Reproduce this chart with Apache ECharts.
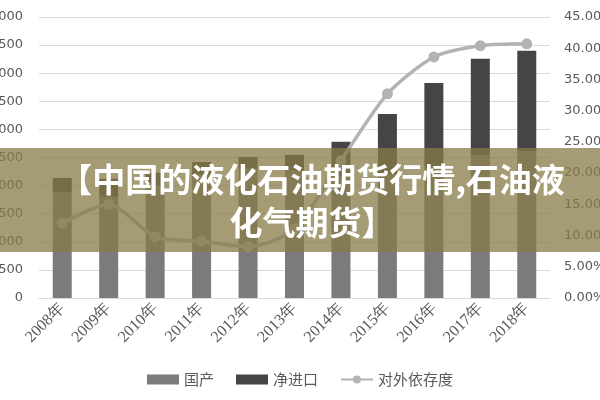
<!DOCTYPE html>
<html>
<head>
<meta charset="utf-8">
<script src="https://cdn.jsdelivr.net/npm/echarts@6/dist/echarts.min.js"></script>
<style>
html, body { margin: 0; padding: 0; background: #fff; }
#main { width: 600px; height: 400px; }
</style>
</head>
<body>
<div id="main"></div>
<script>
var years = ['2008年', '2009年', '2010年', '2011年', '2012年', '2013年', '2014年', '2015年', '2016年', '2017年', '2018年'];
var guochan = [1880, 1800, 2010, 2200, 2300, 2265, 2170, 2200, 2350, 2535, 2610];
var jingjinkou = [255, 320, 220, 220, 210, 280, 610, 1075, 1475, 1720, 1790];
var yicundu = [12.0, 15.0, 9.8, 9.1, 8.2, 11.0, 22.0, 32.7, 38.6, 40.4, 40.7];
var titleText = '【中国的液化石油期货行情,石油液\n化气期货】';

var myChart = echarts.init(document.getElementById('main'));
var option = {
	backgroundColor: '#fff',
	animation: false,
	grid: {
		left: 39,
		right: 50,
		top: 17,
		bottom: 102,
		outerBoundsMode: 'none'
	},
	legend: {
		bottom: 8,
		left: 'center',
		itemGap: 22,
		textStyle: {
			color: '#595959',
			fontSize: 15,
			fontFamily: 'Noto Sans CJK SC'
		},
		data: [
			{ name: '国产', icon: 'rect', itemStyle: { color: '#7b7b7b' } },
			{ name: '净进口', icon: 'rect', itemStyle: { color: '#454545' } },
			{ name: '对外依存度' }
		],
		itemWidth: 32,
		itemHeight: 10
	},
	xAxis: {
		type: 'category',
		data: years,
		axisLine: { lineStyle: { color: '#d9d9d9' } },
		axisTick: { show: false },
		axisLabel: {
			rotate: 45,
			color: '#595959',
			fontSize: 16,
			fontFamily: 'Liberation Serif',
			margin: 8
		}
	},
	yAxis: [{
		type: 'value',
		min: 0,
		max: 5000,
		interval: 500,
		axisLine: { show: false },
		axisTick: { show: false },
		axisLabel: {
			color: '#595959',
			fontSize: 13,
			fontFamily: 'DejaVu Sans',
			margin: 16,
			formatter: function (v) {
				return String(v);
			}
		},
		splitLine: { lineStyle: { color: '#d9d9d9' } }
	}, {
		type: 'value',
		min: 0,
		max: 45,
		interval: 5,
		axisLine: { show: false },
		axisTick: { show: false },
		splitLine: { show: false },
		axisLabel: {
			color: '#595959',
			fontSize: 13,
			fontFamily: 'DejaVu Sans',
			margin: 14,
			formatter: function (v) {
				return v.toFixed(2) + '%';
			}
		}
	}],
	series: [{
		name: '国产',
		type: 'bar',
		stack: 'total',
		barWidth: 19,
		itemStyle: { color: '#7b7b7b' },
		data: guochan
	}, {
		name: '净进口',
		type: 'bar',
		stack: 'total',
		barWidth: 19,
		itemStyle: { color: '#454545' },
		data: jingjinkou
	}, {
		name: '对外依存度',
		type: 'line',
		yAxisIndex: 1,
		smooth: 0.25,
		symbol: 'circle',
		symbolSize: 11,
		lineStyle: { color: '#b3b3b3', width: 3.5 },
		itemStyle: { color: '#b3b3b3' },
		data: yicundu
	}],
	graphic: [{
		type: 'rect',
		z: 100,
		shape: { x: 0, y: 148, width: 600, height: 104 },
		style: { fill: 'rgba(135,121,70,0.75)' }
	}, {
		type: 'text',
		z: 101,
		x: 312,
		y: 201,
		style: {
			text: titleText,
			fill: '#fff',
			font: 'bold 33px "Noto Sans CJK SC"',
			lineHeight: 43,
			align: 'center',
			verticalAlign: 'middle'
		}
	}]
};
myChart.setOption(option);
</script>
</body>
</html>
